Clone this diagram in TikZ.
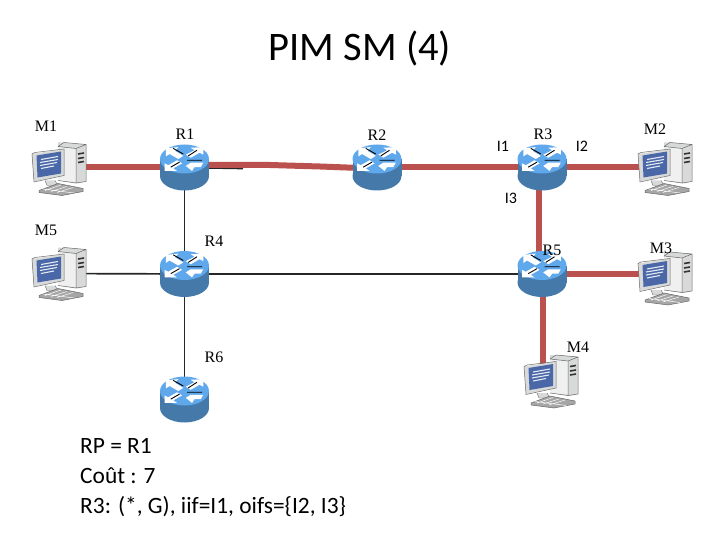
\documentclass[tikz,border=0pt]{standalone}
\usepackage{fontspec}
\setmainfont{Carlito}
\newfontfamily\lblfont{Liberation Serif}
\usetikzlibrary{calc}
\definecolor{linkred}{HTML}{BB514E}
\definecolor{rtop}{HTML}{60A8EC}
\definecolor{rbody}{HTML}{4579A9}
\definecolor{scr}{HTML}{4A68A8}
\definecolor{gframe}{HTML}{D8DADA}
\definecolor{gline}{HTML}{6A6A6A}
\tikzset{
  x=1pt,y=-1pt,
  anchorbox/.style={inner sep=0pt,minimum width=48pt,minimum height=46pt},
  redlink/.style={draw=linkred,line width=6pt},
  blacklink/.style={draw=black!85,line width=1.7pt},
  devlabel/.style={font=\lblfont\fontsize{16}{16}\selectfont,inner sep=0pt},
  iflabel/.style={font=\fontsize{16}{16}\selectfont,inner sep=0pt},
  router/.pic={
    \fill[rbody] (-24.5,-8.5) rectangle (24.5,8.5);
    \fill[rbody] (0,8.5) ellipse[x radius=24.5pt,y radius=14.5pt];
    \fill[rtop] (0,-8.5) ellipse[x radius=24.5pt,y radius=14.5pt];
    \begin{scope}[shift={(0,-8.5)},scale=1.25,shift={(0,8.5)}]
    \fill[white] (-15,-17) -- (-5,-18) -- (-7.5,-15) -- (-1,-11) -- (-5,-8.5) -- (-12,-12.5) -- (-15,-10.5) -- cycle;
    \fill[white] (15,-18) -- (15,-12) -- (12,-13.5) -- (5,-9.5) -- (1,-12) -- (8,-15.5) -- (5,-17.5) -- cycle;
    \fill[white] (-16,1) -- (-16,-5) -- (-13,-3.5) -- (-6,-7.5) -- (-2,-5) -- (-9,-1) -- (-6,1) -- cycle;
    \fill[white] (6,1) -- (1,-3) -- (5,-5.5) -- (15,-5.5) -- (13,-2) -- (8,-2) -- cycle;
    \draw[black,line width=.9pt] (-9,-17) -- (-1,-12.5) (3,-11) -- (10,-15.5) (2,-7.5) -- (14,-7.5) (-11,-2) -- (-4,-6);
    \end{scope}
  },
  computer/.pic={
    % tower
    \fill[gframe] (-1,-26) -- (5,-26) -- (27,-24) -- (27,13) -- (19,15) -- (-1,12) -- cycle;
    \fill[white!94!black] (-1,-22) -- (17,-20) -- (17,13.5) -- (-1,12) -- cycle;
    \draw[gline,line width=.5pt] (-1,-22) -- (5,-26) -- (27,-24) -- (27,13) -- (17,14.5) -- (-1,12) (-1,-22) -- (17,-20) -- (27,-24) (17,-20) -- (17,14.5);
    \draw[black!80,line width=1.6pt] (19,-14.5) -- (25,-15.5) (19,-10) -- (25,-11) (19,-6) -- (25,-7);
    \fill[gframe] (18.5,-3) -- (25.5,-4) -- (25.5,8) -- (18.5,9) -- cycle;
    % stand and keyboard
    \fill[gframe] (-14,12) -- (-4,12) -- (-1,17) -- (-12,17) -- cycle;
    \draw[gline,line width=.4pt] (-14,12) -- (-12,17) -- (-1,17) -- (-4,12);
    \fill[black!35] (-20,22) -- (-1,15) -- (24,20) -- (24,23) -- (3,27) -- (-20,24) -- cycle;
    \draw[gline,line width=.5pt] (-20,22) -- (-1,15) -- (24,20) -- (24,23) -- (3,27) -- (-20,24) -- cycle;
    \draw[white,line width=.5pt] (-14,22) -- (2,16.5) (-8,23) -- (8,18) (-2,24) -- (14,19) (-16,20.5) -- (15,24.5);
    % monitor
    \fill[gframe] (-27,-14.5) -- (5,-19.5) -- (5,7) -- (-25,13) -- cycle;
    \draw[gline,line width=.5pt] (-27,-14.5) -- (-24,-16) -- (5,-19.5) -- (5,7) -- (-25,13.5) -- cycle;
    \fill[scr] (-22.5,-13) -- (2,-17) -- (2,5) -- (-21.5,9) -- cycle;
    \draw[white!85!scr,line width=1.1pt] (-18,-9) -- (-1,-12) (-19,-6) -- (-1,-9) (-19,-3) -- (-2,-6) (-18,0) -- (-5,-2.5);
  }
}
\begin{document}
\begin{tikzpicture}
\useasboundingbox (0,0) rectangle (720,540);
\node[anchorbox] (R1) at (184.5,167.5) {};
\node[anchorbox] (R2) at (377,167.5) {};
\node[anchorbox] (R3) at (542,167.5) {};
\node[anchorbox] (R4) at (184.5,274) {};
\node[anchorbox] (R5) at (542,274) {};
\node[anchorbox] (R6) at (184.5,399.5) {};
\node[anchorbox,minimum width=54pt,minimum height=53pt] (M1) at (59,168.5) {};
\node[anchorbox,minimum width=54pt,minimum height=53pt] (M5) at (59,273.5) {};
\node[anchorbox,minimum width=54pt,minimum height=53pt] (M2) at (665,168.5) {};
\node[anchorbox,minimum width=54pt,minimum height=53pt] (M3) at (665,278) {};
\node[anchorbox,minimum width=54pt,minimum height=53pt] (M4) at (551,381) {};
\coordinate (bkEnd) at (243,168.5);
\coordinate (rA) at (200,165);
\coordinate (rB) at (270,165);
\coordinate (rC) at (320,166.5);
\coordinate (rD) at (360,168);
% black links
\draw[blacklink] (R1.center) -- (R4.center);
\draw[blacklink] (R4.center) -- (R6.center);
\draw[blacklink] (M5.center) -- (R4.center);
\draw[blacklink] (R4.center) -- (R5.center);
\draw[blacklink] (R1.center) -- (bkEnd);
% red links
\draw[redlink] (R1.center -| M1.center) -- (R1.center);
\draw[redlink] (rA) -- (rB) -- (rC) -- (rD) -- (R2.center);
\draw[redlink] (R2.center) -- (R3.center);
\draw[redlink] (R3.center) -- (R3.center -| M2.center);
\draw[redlink] ($(R3.center)+(-3,0)$) -- ($(R5.center)+(-3,0)$);
\draw[redlink] (R5.center) -- (R5.center -| M3.center);
\draw[redlink] ($(R5.center)+(1,0)$) -- ($(R5.center|-M4.center)+(1,0)$);
% devices
\foreach \r in {R1,R2,R3,R4,R5,R6} {\pic at (\r.center) {router};}
\foreach \m in {M1,M2,M3,M4,M5} {\pic at (\m.center) {computer};}
% labels
\node[devlabel] (tM1) at (46,126) {M1};
\node[devlabel] (tM5) at (46,230) {M5};
\node[devlabel] (tR1) at (185,134) {R1};
\node[devlabel] (tR2) at (377,135) {R2};
\node[devlabel] (tR3) at (543,134) {R3};
\node[devlabel] (tR4) at (214,241) {R4};
\node[devlabel] (tR5) at (552,250) {R5};
\node[devlabel] (tR6) at (214,357) {R6};
\node[devlabel] (tM2) at (655,129) {M2};
\node[devlabel] (tM3) at (661,248) {M3};
\node[devlabel] (tM4) at (578,347) {M4};
\node[iflabel] (tI1) at (503,146) {I1};
\node[iflabel] (tI2) at (582,146) {I2};
\node[iflabel] (tI3) at (511,198) {I3};
\node[font=\fontsize{40.5}{40.5}\selectfont,inner sep=0pt] (title) at (360,48) {PIM SM (4)};
\node[font=\fontsize{23.4}{30}\selectfont,inner sep=0pt,align=left,anchor=north west] (info) at (80,438) {RP = R1\\Coût : 7\\R3: (*, G), iif=I1, oifs=\{I2, I3\}};
\end{tikzpicture}
\end{document}
